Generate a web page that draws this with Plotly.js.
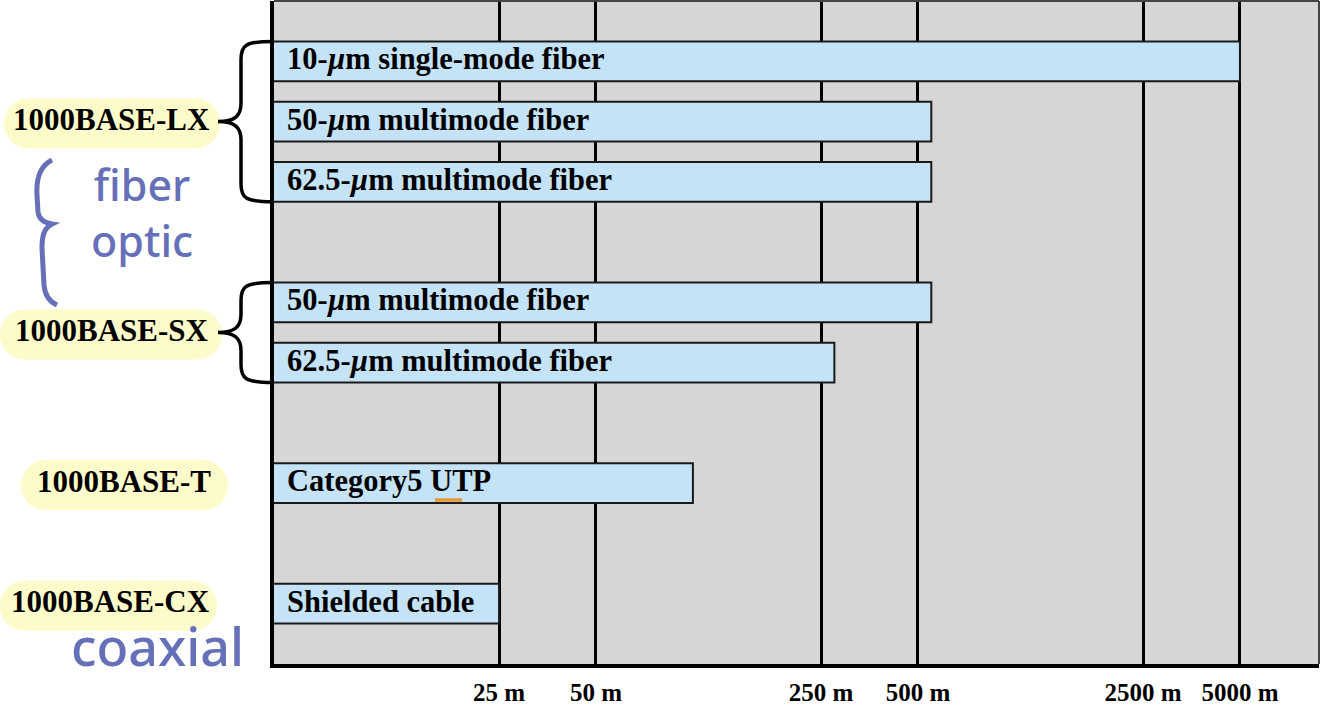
<!DOCTYPE html>
<html>
<head>
<meta charset="utf-8">
<script src="https://cdn.plot.ly/plotly-3.0.1.min.js"></script>
<style>html,body{margin:0;padding:0;background:#fff;}#chart{width:1320px;height:711px;}</style>
</head>
<body>
<div id="chart"></div>
<script>
// ---- data ----
const standards = ['1000BASE-LX', '1000BASE-SX', '1000BASE-T', '1000BASE-CX'];
const mediaLabels = [
  '10-<i>µ</i>m single-mode fiber',
  '50-<i>µ</i>m multimode fiber',
  '62.5-<i>µ</i>m multimode fiber',
  '50-<i>µ</i>m multimode fiber',
  '62.5-<i>µ</i>m multimode fiber',
  'Category5 UTP',
  'Shielded cable'
];
const mediaStandard = ['1000BASE-LX', '1000BASE-LX', '1000BASE-LX', '1000BASE-SX', '1000BASE-SX', '1000BASE-T', '1000BASE-CX'];
const maxDistance = [5000, 550, 550, 550, 275, 100, 25];
const tickValues = [25, 50, 250, 500, 2500, 5000];
const tickLabels = ['25 m', '50 m', '250 m', '500 m', '2500 m', '5000 m'];
const handNotes = ['fiber<br>optic', 'coaxial'];

// ---- layout geometry helpers ----
const W = 1320, H = 711, ML = 274, MR = 1, MT = 1, MB = 47;
const PW = W - ML - MR, PH = H - MT - MB;
const X = px => (px - ML) / PW;
const Y = py => (H - MB - py) / PH;
const yTop = 11;
const rowToPx = r => MT + (yTop - r) * PH / yTop;

// rows: each standard group followed by an empty row
const rows = [];
let r = 10, prev = null;
mediaStandard.forEach((s, i) => {
  if (prev !== null && s !== prev) r -= 1;
  rows.push(r);
  r -= 1;
  prev = s;
});

const barHalf = 0.33;
const serif = 'Liberation Serif, Times New Roman, serif';

const trace = {
  type: 'bar',
  orientation: 'h',
  x: maxDistance,
  y: rows,
  width: 2 * barHalf,
  marker: {color: '#c5e3f6', line: {color: '#1a1a1a', width: 2}},
  hoverinfo: 'skip',
  showlegend: false
};

const annotations = [];
const shapes = [];

// bar labels
mediaLabels.forEach((t, i) => {
  annotations.push({
    text: t, xref: 'paper', yref: 'paper', x: X(285), y: Y(rowToPx(rows[i]) - 2),
    xanchor: 'left', yanchor: 'middle', showarrow: false,
    font: {family: serif, size: 30.5, color: '#000', weight: 'bold'}
  });
});

// standard labels, pills, braces
const pillX = [[4, 220], [0, 222], [21, 228], [0, 217]];
const labelCx = [111, 112, 124, 110];
function pillPath(x0, x1, cy, h) {
  const rr = h / 2, k = 0.5523 * rr;
  const y0 = cy - rr, y1 = cy + rr;
  const p = (x, y) => X(x) + ',' + Y(y);
  return 'M' + p(x0 + rr, y0) + ' L' + p(x1 - rr, y0) +
    ' C' + p(x1 - rr + k, y0) + ' ' + p(x1, cy - k) + ' ' + p(x1, cy) +
    ' C' + p(x1, cy + k) + ' ' + p(x1 - rr + k, y1) + ' ' + p(x1 - rr, y1) +
    ' L' + p(x0 + rr, y1) +
    ' C' + p(x0 + rr - k, y1) + ' ' + p(x0, cy + k) + ' ' + p(x0, cy) +
    ' C' + p(x0, cy - k) + ' ' + p(x0 + rr - k, y0) + ' ' + p(x0 + rr, y0) + ' Z';
}
function bracePath(xr, xs, xt, y0, y1) {
  const ym = (y0 + y1) / 2, rr = 18;
  const p = (x, y) => X(x) + ',' + Y(y);
  return 'M' + p(xr, y0) +
    ' C' + p(xs + 4, y0) + ' ' + p(xs, y0 + 4) + ' ' + p(xs, y0 + rr) +
    ' L' + p(xs, ym - rr) +
    ' C' + p(xs, ym - 6) + ' ' + p(xs - 6, ym) + ' ' + p(xt, ym) +
    ' C' + p(xs - 6, ym) + ' ' + p(xs, ym + 6) + ' ' + p(xs, ym + rr) +
    ' L' + p(xs, y1 - rr) +
    ' C' + p(xs, y1 - 4) + ' ' + p(xs + 4, y1) + ' ' + p(xr, y1);
}
standards.forEach((s, gi) => {
  const rs = rows.filter((_, i) => mediaStandard[i] === s);
  const mid = (Math.max(...rs) + Math.min(...rs)) / 2;
  const cy = rowToPx(mid);
  shapes.push({type: 'path', xref: 'paper', yref: 'paper', path: pillPath(pillX[gi][0], pillX[gi][1], cy + 2, 50),
    fillcolor: '#fdfbc9', line: {width: 0}, layer: 'above'});
  annotations.push({
    text: s, xref: 'paper', yref: 'paper', x: X(labelCx[gi]), y: Y(cy - 2),
    xanchor: 'center', yanchor: 'middle', showarrow: false,
    font: {family: serif, size: 31, color: '#000', weight: 'bold'}
  });
  if (rs.length > 1) {
    const top = rowToPx(Math.max(...rs) + barHalf);
    const bot = rowToPx(Math.min(...rs) - barHalf);
    shapes.push({type: 'path', xref: 'paper', yref: 'paper', path: bracePath(273, 241, 218, top, bot),
      line: {color: '#000', width: 3.5}, layer: 'above'});
  }
});

// plot frame top/right thin lines
shapes.push({type: 'line', xref: 'paper', yref: 'paper', x0: 0, x1: 1, y0: 1, y1: 1, line: {color: '#444', width: 2}});
shapes.push({type: 'line', xref: 'paper', yref: 'paper', x0: 1, x1: 1, y0: 0, y1: 1, line: {color: '#444', width: 2}});

// handwritten notes (blue)
const blue = '#6670b9';
const hand = 'Noto Sans, DejaVu Sans, sans-serif';
annotations.push({text: handNotes[0], xref: 'paper', yref: 'paper', x: X(142), y: Y(212), xanchor: 'center', yanchor: 'middle', showarrow: false,
  font: {family: hand, size: 43, color: blue, weight: 500}});
annotations.push({text: handNotes[1], xref: 'paper', yref: 'paper', x: X(157), y: Y(645), xanchor: 'center', yanchor: 'middle', showarrow: false,
  font: {family: hand, size: 52, color: blue, weight: 500}});
(function () {
  const p = (x, y) => X(x) + ',' + Y(y);
  const path = 'M' + p(52, 160) + ' C' + p(40, 166) + ' ' + p(36, 178) + ' ' + p(37, 195) +
    ' L' + p(38, 212) + ' C' + p(39, 220) + ' ' + p(45, 223) + ' ' + p(52, 224) +
    ' C' + p(44, 228) + ' ' + p(42, 236) + ' ' + p(42, 248) +
    ' L' + p(44, 285) + ' C' + p(45, 296) + ' ' + p(50, 302) + ' ' + p(57, 305);
  shapes.push({type: 'path', xref: 'paper', yref: 'paper', path: path, line: {color: blue, width: 5}, layer: 'above'});
})();
// orange underline mark
shapes.push({type: 'line', xref: 'paper', yref: 'paper', x0: X(435), x1: X(462), y0: Y(500), y1: Y(500), line: {color: '#e49a3a', width: 3.5}, layer: 'above'});

const layout = {
  width: W, height: H,
  margin: {l: ML, r: MR, t: MT, b: MB, pad: 0},
  paper_bgcolor: '#ffffff',
  plot_bgcolor: '#d6d6d6',
  bargap: 0,
  xaxis: {
    type: 'log',
    range: [Math.log10(5), Math.log10(8800)],
    tickvals: tickValues, ticktext: tickLabels,
    showgrid: true, gridcolor: '#000', gridwidth: 3,
    showline: true, linecolor: '#000', linewidth: 4,
    ticks: '', ticklabelstandoff: 3,
    tickfont: {family: serif, size: 25, color: '#000', weight: 'bold'},
    zeroline: false, fixedrange: true
  },
  yaxis: {
    range: [0, yTop],
    showgrid: false, zeroline: false, showticklabels: false, ticks: '',
    showline: true, linecolor: '#000', linewidth: 4, fixedrange: true
  },
  annotations: annotations,
  shapes: shapes
};

Plotly.newPlot('chart', [trace], layout, {displayModeBar: false, staticPlot: true});
</script>
</body>
</html>
